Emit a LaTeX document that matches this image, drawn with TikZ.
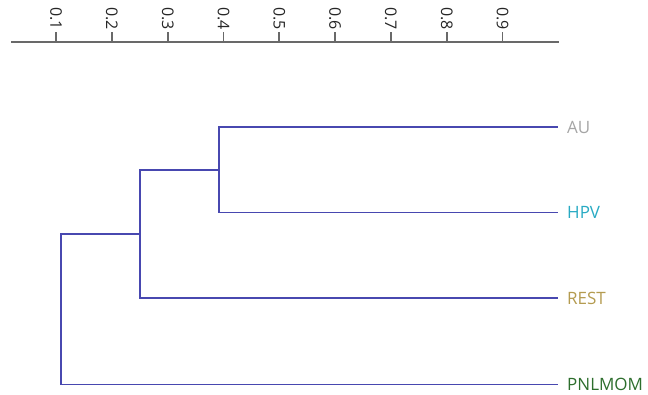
\documentclass[tikz,border=0pt]{standalone}
\usepackage{fontspec}
\setmainfont{Open Sans}
\definecolor{linkblue}{RGB}{72,72,176}
\definecolor{axisgray}{RGB}{105,105,105}
\definecolor{augray}{RGB}{165,165,165}
\definecolor{hpvcyan}{RGB}{40,170,195}
\definecolor{restgold}{RGB}{180,155,80}
\definecolor{pnlgreen}{RGB}{45,110,45}
\begin{document}
\begin{tikzpicture}[x=1pt,y=-1pt,
  link/.style={draw=linkblue, line width=1.6pt, line cap=rect},
  axisline/.style={draw=axisgray, line width=1.8pt},
  ticklabel/.style={font=\fontsize{16}{16}\selectfont, text=black!85, rotate=-90, anchor=east, inner sep=1pt},
  leaf/.style={font=\fontsize{17}{17}\selectfont, anchor=west, inner xsep=10pt, inner ysep=0pt}]
\useasboundingbox (0,0) rectangle (648,394);
% axis
\coordinate (axl) at (11,41.7);
\coordinate (axr) at (559,41.7);
\draw[axisline] (axl) -- (axr);
\foreach \k in {1,...,9}{
  \coordinate (t\k) at (55.8*\k+0.3,41.7);
  \coordinate (tt\k) at (55.8*\k+0.3,32);
  \draw[axisline] (t\k) -- (tt\k);
  \node[ticklabel] (lab\k) at (55.8*\k+0.3,31) {0.\k};
}
% leaves
\node[leaf, text=augray] (au) at (557,127) {AU};
\node[leaf, text=hpvcyan] (hpv) at (557,212.5) {HPV};
\node[leaf, text=restgold] (rest) at (557,298) {REST};
\node[leaf, text=pnlgreen] (pnl) at (557,384.5) {PNLMOM};
% internal merges
\coordinate (m1) at (219,169.75);
\coordinate (m2) at (140,234);
\coordinate (m3) at (61,309);
\draw[link] (au.west) -| (m1) |- (hpv.west);
\draw[link] (m1) -| (m2) |- (rest.west);
\draw[link] (m2) -| (m3) |- (pnl.west);
\end{tikzpicture}
\end{document}
